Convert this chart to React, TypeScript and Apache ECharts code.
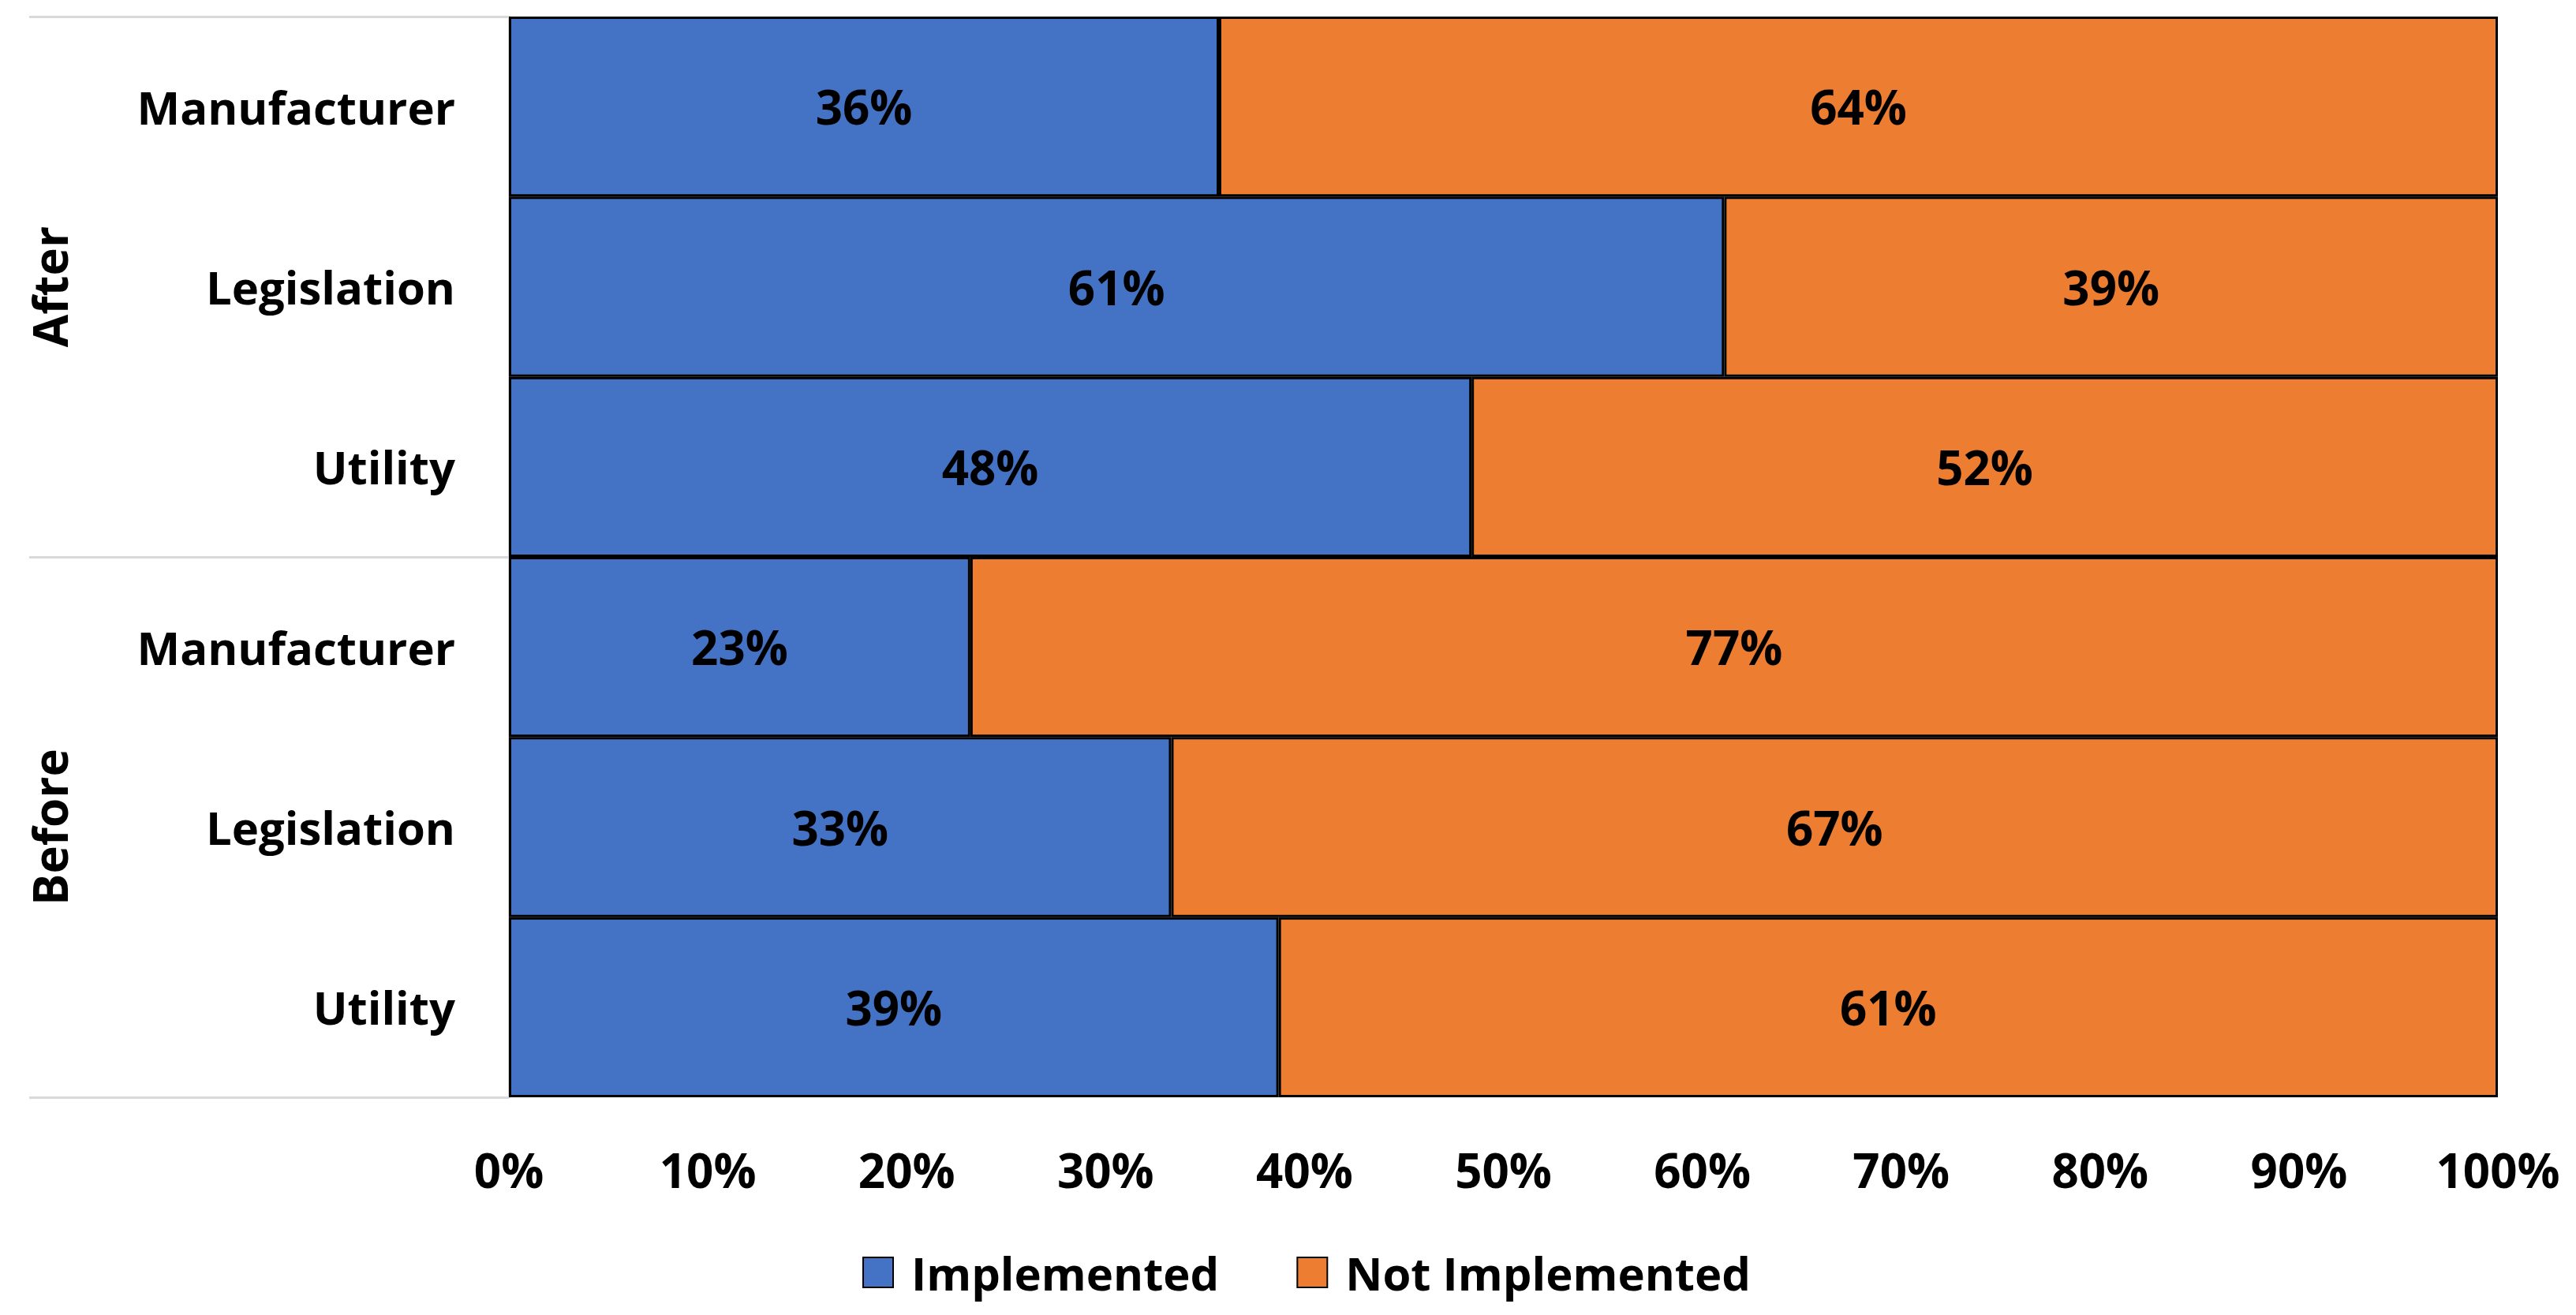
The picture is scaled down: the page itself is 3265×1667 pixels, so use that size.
import React, { useEffect, useRef } from "react";
import * as echarts from "echarts";

const groups = ["After", "Before"];
const rowIds = [
  "After|Manufacturer",
  "After|Legislation",
  "After|Utility",
  "Before|Manufacturer",
  "Before|Legislation",
  "Before|Utility",
];
const seriesNames = ["Implemented", "Not Implemented"];
const implemented = [35.7, 61.1, 48.4, 23.2, 33.3, 38.7];
const notImplemented = [64.3, 38.9, 51.6, 76.8, 66.7, 61.3];
const seriesColors = ["#4472C4", "#ED7D31"];

const FONT = "'Open Sans', sans-serif";

export default function App() {
  const ref = useRef<HTMLDivElement>(null);
  useEffect(() => {
    document.body.style.margin = "0";
    const chart = echarts.init(ref.current!, null, { renderer: "svg" });
    const labelStyle = {
      show: true,
      position: "inside",
      formatter: (p: any) => Math.round(p.value) + "%",
      fontSize: 60,
      fontWeight: "bold",
      fontFamily: FONT,
      color: "#000",
      textBorderWidth: 0,
    };
    chart.setOption({
      animation: false,
      grid: { left: 645, right: 99, top: 21, bottom: 276, containLabel: false },
      legend: {
        data: seriesNames,
        left: 1088,
        top: 1579,
        icon: "rect",
        itemWidth: 38,
        itemHeight: 38,
        itemGap: 98,
        textStyle: { fontSize: 58, fontWeight: "bold", fontFamily: FONT, color: "#000", padding: [0, 0, 0, 18] },
      },
      xAxis: {
        type: "value",
        min: 0,
        max: 100,
        interval: 10,
        axisLabel: {
          formatter: "{value}%",
          fontSize: 60,
          fontWeight: "bold",
          fontFamily: FONT,
          color: "#000",
          margin: 62,
        },
        splitLine: { show: false },
        axisLine: { show: false },
        axisTick: { show: false },
      },
      yAxis: [
        {
          type: "category",
          data: rowIds,
          inverse: true,
          position: "left",
          axisLine: { show: false },
          axisTick: { show: false },
          axisLabel: {
            formatter: (v: string) => v.split("|")[1],
            fontSize: 58,
            fontWeight: "bold",
            fontFamily: FONT,
            color: "#000",
            margin: 68,
          },
        },
        {
          type: "category",
          data: groups,
          inverse: true,
          position: "left",
          axisLine: { show: true, lineStyle: { color: "#d9d9d9", width: 3 } },
          axisTick: { show: true, length: 608, lineStyle: { color: "#d9d9d9", width: 3 } },
          axisLabel: {
            rotate: 90,
            fontSize: 60,
            fontWeight: "bold",
            fontFamily: FONT,
            color: "#000",
            margin: 552,
          },
          splitLine: { show: false },
        },
      ],
      series: [
        {
          name: seriesNames[0],
          type: "bar",
          stack: "total",
          yAxisIndex: 0,
          barCategoryGap: "0%",
          data: implemented,
          itemStyle: { color: seriesColors[0], borderColor: "#000", borderWidth: 3 },
          label: labelStyle,
        },
        {
          name: seriesNames[1],
          type: "bar",
          stack: "total",
          yAxisIndex: 0,
          barCategoryGap: "0%",
          data: notImplemented,
          itemStyle: { color: seriesColors[1], borderColor: "#000", borderWidth: 3 },
          label: labelStyle,
        },
      ],
    });
    return () => chart.dispose();
  }, []);
  return <div ref={ref} style={{ width: 3265, height: 1667 }} />;
}
